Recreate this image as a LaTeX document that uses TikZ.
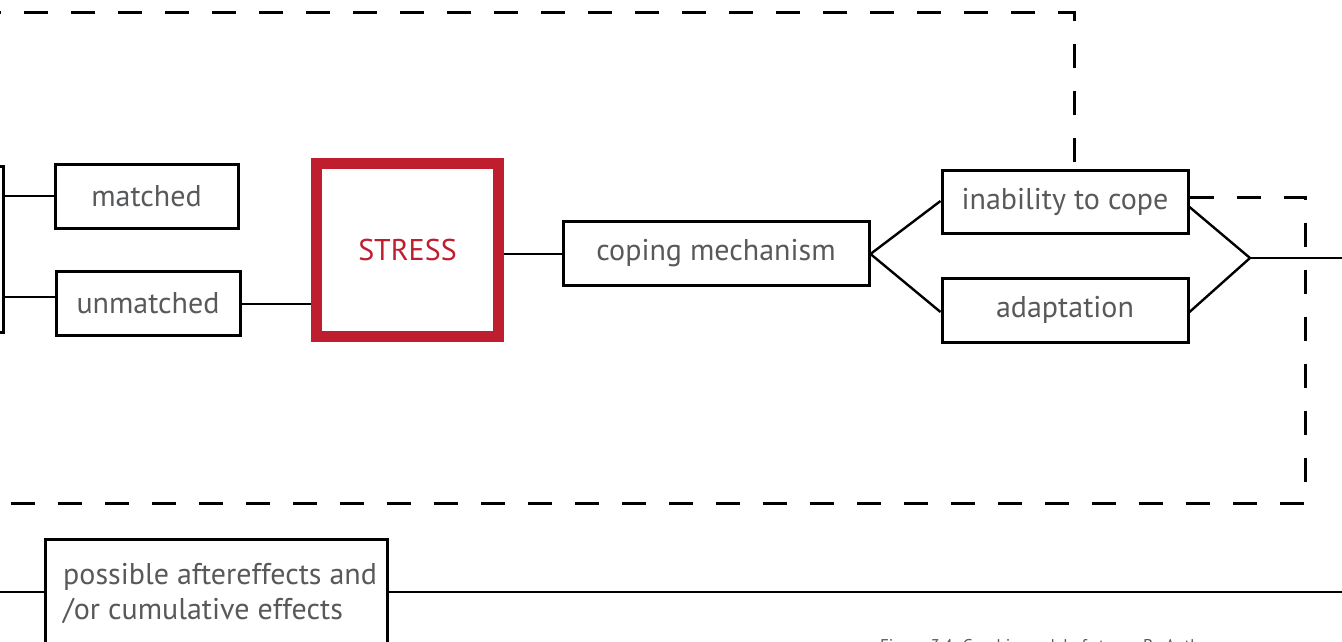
\documentclass[tikz,border=0pt]{standalone}
\usepackage{fontspec}
\setmainfont{PT Sans}
\definecolor{stressred}{HTML}{BE1E2D}
\definecolor{txtgray}{HTML}{58595B}
\begin{document}
\begin{tikzpicture}[x=1pt,y=-1pt,
  box/.style={draw=black,line width=3pt,rectangle,inner sep=0pt,
    text=txtgray,font=\fontsize{30}{36}\selectfont},
  link/.style={draw=black,line width=2.4pt},
  dashlink/.style={draw=black,line width=3pt,dash pattern=on 24pt off 23pt}]
\useasboundingbox (0,0) rectangle (1342,642);
\clip (0,0) rectangle (1342,642);

% boxes of the stress model
\node[box,minimum width=106pt,minimum height=166pt] (left) at (-50,249) {};
\node[box,minimum width=183pt,minimum height=64pt] (matched) at (146.5,196) {matched};
\node[box,minimum width=184pt,minimum height=64pt] (unmatched) at (148,303.5) {unmatched};
\node[box,draw=stressred,line width=11pt,text=stressred,
  minimum width=182pt,minimum height=173pt] (stress) at (407.5,250) {\raisebox{-3pt}{STRESS}};
\node[box,minimum width=306pt,minimum height=64pt] (coping) at (716,253) {\raisebox{-2pt}{coping mechanism}};
\node[box,minimum width=246pt,minimum height=63pt] (inability) at (1065,201.5) {\raisebox{-1pt}{inability to cope}};
\node[box,minimum width=246pt,minimum height=64pt] (adapt) at (1065,310) {\raisebox{-1pt}{adaptation}};
\node[box,minimum width=342pt,minimum height=170pt] (after) at (216.5,624) {};
\node[anchor=base west,inner sep=0pt,text=txtgray,align=left,
  font=\fontsize{30}{35}\selectfont] (aftertext) at (63,619)
  {possible aftereffects and\\/or cumulative effects};
\node[anchor=base west,inner sep=0pt,text=txtgray,
  font=\fontsize{17}{20}\selectfont] (caption) at (880,651)
  {Figure 3.4: Graphic model of stress. By Author};

\coordinate (join) at (1250,258);
\coordinate (outR) at (1342,258);

% solid connectors
\draw[link] (left.east |- 0,196) -- (matched.west |- 0,196);
\draw[link] (left.east |- 0,297) -- (unmatched.west |- 0,297);
\draw[link] (unmatched.east |- 0,304) -- (stress.west |- 0,304);
\draw[link] (stress.east |- 0,254) -- (coping.west |- 0,254);
\draw[link] (coping.east |- 0,254) -- (inability.west |- 0,201);
\draw[link] (coping.east |- 0,254) -- (adapt.west |- 0,312);
\draw[link] (inability.east |- 0,207) -- (join);
\draw[link] (adapt.east |- 0,312) -- (join);
\draw[link] (join) -- (outR);
\draw[link] (0,592) -- (after.west |- 0,592);
\draw[link] (after.east |- 0,592) -- (1342,592);

% dashed feedback loops
\draw[dashlink,dash phase=23pt] (0,13) -- (1074,13) -- (inability.north -| 1074,0);
\draw[dashlink] (inability.east |- 0,197) -- (1305,197) -- (1305,503) -- (0,503);
\end{tikzpicture}
\end{document}
